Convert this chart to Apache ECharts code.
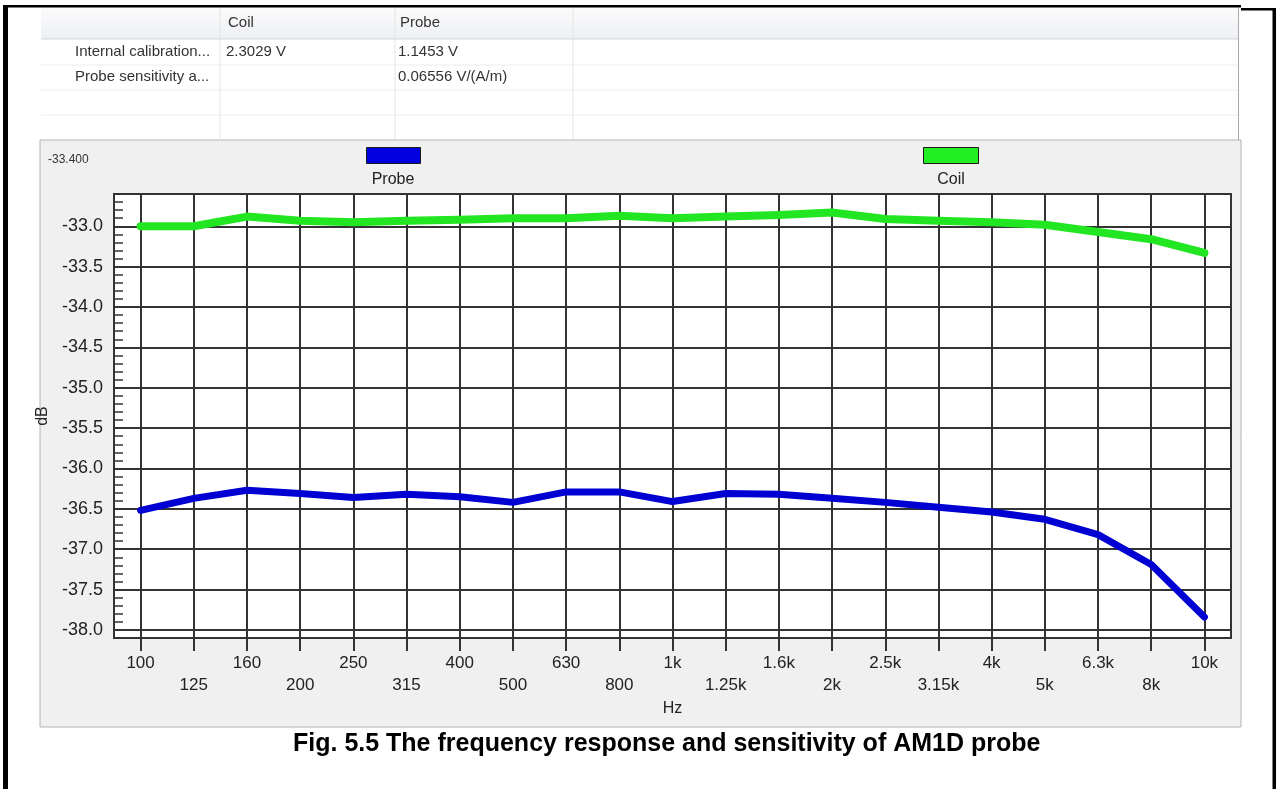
<!DOCTYPE html>
<html>
<head>
<meta charset="utf-8">
<script src="https://cdn.jsdelivr.net/npm/echarts@6/dist/echarts.min.js"></script>
<style>
  html, body { margin: 0; padding: 0; background: #fff; }
  #main { width: 1277px; height: 789px; }
</style>
</head>
<body>
<div id="main"></div>
<script>
// third-octave bands, 100 Hz .. 10 kHz
var freqLabels = ['100', '125', '160', '200', '250', '315', '400', '500', '630', '800',
  '1k', '1.25k', '1.6k', '2k', '2.5k', '3.15k', '4k', '5k', '6.3k', '8k', '10k']
var coilDb = [-33.00, -33.00, -32.88, -32.93, -32.95, -32.93, -32.92, -32.90, -32.90, -32.87,
  -32.90, -32.88, -32.86, -32.83, -32.91, -32.93, -32.95, -32.98, -33.07, -33.16, -33.33]
var probeDb = [-36.52, -36.37, -36.27, -36.31, -36.36, -36.32, -36.35, -36.42, -36.29, -36.29,
  -36.41, -36.31, -36.32, -36.37, -36.42, -36.48, -36.54, -36.63, -36.82, -37.19, -37.84]
var yTicks = [-38.0, -37.5, -37.0, -36.5, -36.0, -35.5, -35.0, -34.5, -34.0, -33.5, -33.0]

// table at the top of the screenshot
var tableHeader = ['Coil', 'Probe']
var tableRows = [
  ['Internal calibration...', '2.3029 V', '1.1453 V'],
  ['Probe sensitivity a...', '', '0.06556 V/(A/m)']
]

var FONT = 'Liberation Sans, Arial, sans-serif'
var yMin = -38.1
var yMax = -32.6

var xIdx = freqLabels.map(function (f, i) { return i })
var minorTicks = []
for (var t = Math.round(yMin * 10); t <= Math.round(yMax * 10); t++) {
  minorTicks.push(t / 10)
}

var chart = echarts.init(document.getElementById('main'))

// screenshot frame, table and legend boxes
var gfx = [
  { type: 'rect', z: -5, silent: true, shape: { x: 40, y: 140, width: 1201, height: 587 },
    style: { fill: '#f0f0f0', stroke: '#b4b4b4', lineWidth: 1 } },
  { type: 'rect', z: -5, silent: true, shape: { x: 41, y: 8, width: 1197, height: 31 },
    style: { fill: new echarts.graphic.LinearGradient(0, 0, 0, 1, [
      { offset: 0, color: '#fbfbfc' }, { offset: 1, color: '#eef0f3' }]) } },
  { type: 'line', silent: true, shape: { x1: 41, y1: 39, x2: 1238, y2: 39 }, style: { stroke: '#d0d3d8', lineWidth: 1 } },
  { type: 'line', silent: true, shape: { x1: 41, y1: 65, x2: 1238, y2: 65 }, style: { stroke: '#ececec', lineWidth: 1 } },
  { type: 'line', silent: true, shape: { x1: 41, y1: 90, x2: 1238, y2: 90 }, style: { stroke: '#ececec', lineWidth: 1 } },
  { type: 'line', silent: true, shape: { x1: 41, y1: 115, x2: 1238, y2: 115 }, style: { stroke: '#ececec', lineWidth: 1 } },
  { type: 'line', silent: true, shape: { x1: 220, y1: 8, x2: 220, y2: 140 }, style: { stroke: '#e4e4e4', lineWidth: 1 } },
  { type: 'line', silent: true, shape: { x1: 395, y1: 8, x2: 395, y2: 140 }, style: { stroke: '#e4e4e4', lineWidth: 1 } },
  { type: 'line', silent: true, shape: { x1: 573, y1: 8, x2: 573, y2: 140 }, style: { stroke: '#e4e4e4', lineWidth: 1 } },
  { type: 'line', silent: true, shape: { x1: 1238.5, y1: 8, x2: 1238.5, y2: 140 }, style: { stroke: '#a8a8a8', lineWidth: 1 } },
  { type: 'text', x: 228, y: 23, style: { text: tableHeader[0], font: '15px ' + FONT, fill: '#333', verticalAlign: 'middle' } },
  { type: 'text', x: 400, y: 23, style: { text: tableHeader[1], font: '15px ' + FONT, fill: '#333', verticalAlign: 'middle' } },
  // black document frame
  { type: 'rect', silent: true, shape: { x: 3, y: 5, width: 5, height: 784 }, style: { fill: '#000' } },
  { type: 'rect', silent: true, shape: { x: 3, y: 5, width: 1238, height: 2.5 }, style: { fill: '#000' } },
  { type: 'rect', silent: true, shape: { x: 1241, y: 8, width: 35, height: 2.5 }, style: { fill: '#000' } },
  { type: 'rect', silent: true, shape: { x: 1272.5, y: 8, width: 3.5, height: 781 }, style: { fill: '#000' } },
  // panel header value
  { type: 'text', x: 48, y: 160, style: { text: '-33.400', font: '12px ' + FONT, fill: '#333', verticalAlign: 'middle' } },
  // legend
  { type: 'rect', shape: { x: 366.5, y: 147.5, width: 54, height: 16 }, style: { fill: '#0000e0', stroke: '#1a1a1a', lineWidth: 1 } },
  { type: 'text', x: 393, y: 180, style: { text: 'Probe', font: '16px ' + FONT, fill: '#222', align: 'center', verticalAlign: 'middle' } },
  { type: 'rect', shape: { x: 923.5, y: 147.5, width: 55, height: 16 }, style: { fill: '#22ee22', stroke: '#1a1a1a', lineWidth: 1 } },
  { type: 'text', x: 951, y: 180, style: { text: 'Coil', font: '16px ' + FONT, fill: '#222', align: 'center', verticalAlign: 'middle' } }
]
var colX = [75, 226, 398]
var rowY = [52, 77]
tableRows.forEach(function (row, r) {
  row.forEach(function (cell, c) {
    if (!cell) return
    gfx.push({ type: 'text', x: colX[c], y: rowY[r],
      style: { text: cell, font: '15px ' + FONT, fill: '#333', verticalAlign: 'middle' } })
  })
})

chart.setOption({
  animation: false,
  backgroundColor: '#fff',
  title: {
    text: 'Fig. 5.5 The frequency response and sensitivity of AM1D probe',
    left: 293,
    top: 732,
    padding: 0,
    textStyle: { fontFamily: FONT, fontSize: 25, fontWeight: 'bold', color: '#000' }
  },
  graphic: gfx,
  grid: {
    left: 114,
    right: 46,
    top: 194,
    bottom: 151,
    show: true,
    backgroundColor: '#fff',
    borderColor: '#333',
    borderWidth: 2,
    outerBoundsMode: 'none'
  },
  xAxis: {
    type: 'value',
    min: -0.5,
    max: 20.5,
    name: 'Hz',
    nameLocation: 'middle',
    nameGap: 58,
    nameTextStyle: { fontFamily: FONT, fontSize: 16, color: '#222' },
    axisLine: { lineStyle: { color: '#333', width: 2 } },
    axisTick: { customValues: xIdx, length: 13, lineStyle: { color: '#333', width: 2 } },
    axisLabel: {
      customValues: xIdx,
      margin: 14,
      fontFamily: FONT,
      fontSize: 17,
      color: '#222',
      lineHeight: 22,
      formatter: function (v) {
        var s = freqLabels[Math.round(v)]
        return Math.round(v) % 2 ? '\n' + s : s
      }
    },
    splitLine: { show: true, lineStyle: { color: '#333', width: 2 } }
  },
  yAxis: [
    {
      type: 'value',
      min: yMin,
      max: yMax,
      name: 'dB',
      nameLocation: 'middle',
      nameRotate: 90,
      nameGap: 58,
      nameTextStyle: { fontFamily: FONT, fontSize: 16, color: '#222' },
      axisLine: { show: true, lineStyle: { color: '#333', width: 2 } },
      axisTick: { customValues: yTicks, length: 8, lineStyle: { color: '#333', width: 2 } },
      axisLabel: {
        customValues: yTicks,
        margin: 11,
        fontFamily: FONT,
        fontSize: 18,
        color: '#222',
        formatter: function (v) { return v.toFixed(1) }
      },
      splitLine: { show: true, lineStyle: { color: '#333', width: 2 } }
    },
    {
      // minor ticks drawn inside the plot
      type: 'value',
      min: yMin,
      max: yMax,
      position: 'left',
      axisLine: { show: false },
      axisTick: { customValues: minorTicks, inside: true, length: 9, lineStyle: { color: '#333', width: 1.5 } },
      axisLabel: { show: false },
      splitLine: { show: false }
    }
  ],
  series: [
    {
      name: 'Coil',
      type: 'line',
      showSymbol: false,
      data: coilDb.map(function (v, i) { return [i, v] }),
      lineStyle: { color: '#22e622', width: 8, cap: 'round', join: 'round' },
      z: 3
    },
    {
      name: 'Probe',
      type: 'line',
      showSymbol: false,
      data: probeDb.map(function (v, i) { return [i, v] }),
      lineStyle: { color: '#0000d2', width: 7, cap: 'round', join: 'round' },
      z: 3
    }
  ]
})
</script>
</body>
</html>
